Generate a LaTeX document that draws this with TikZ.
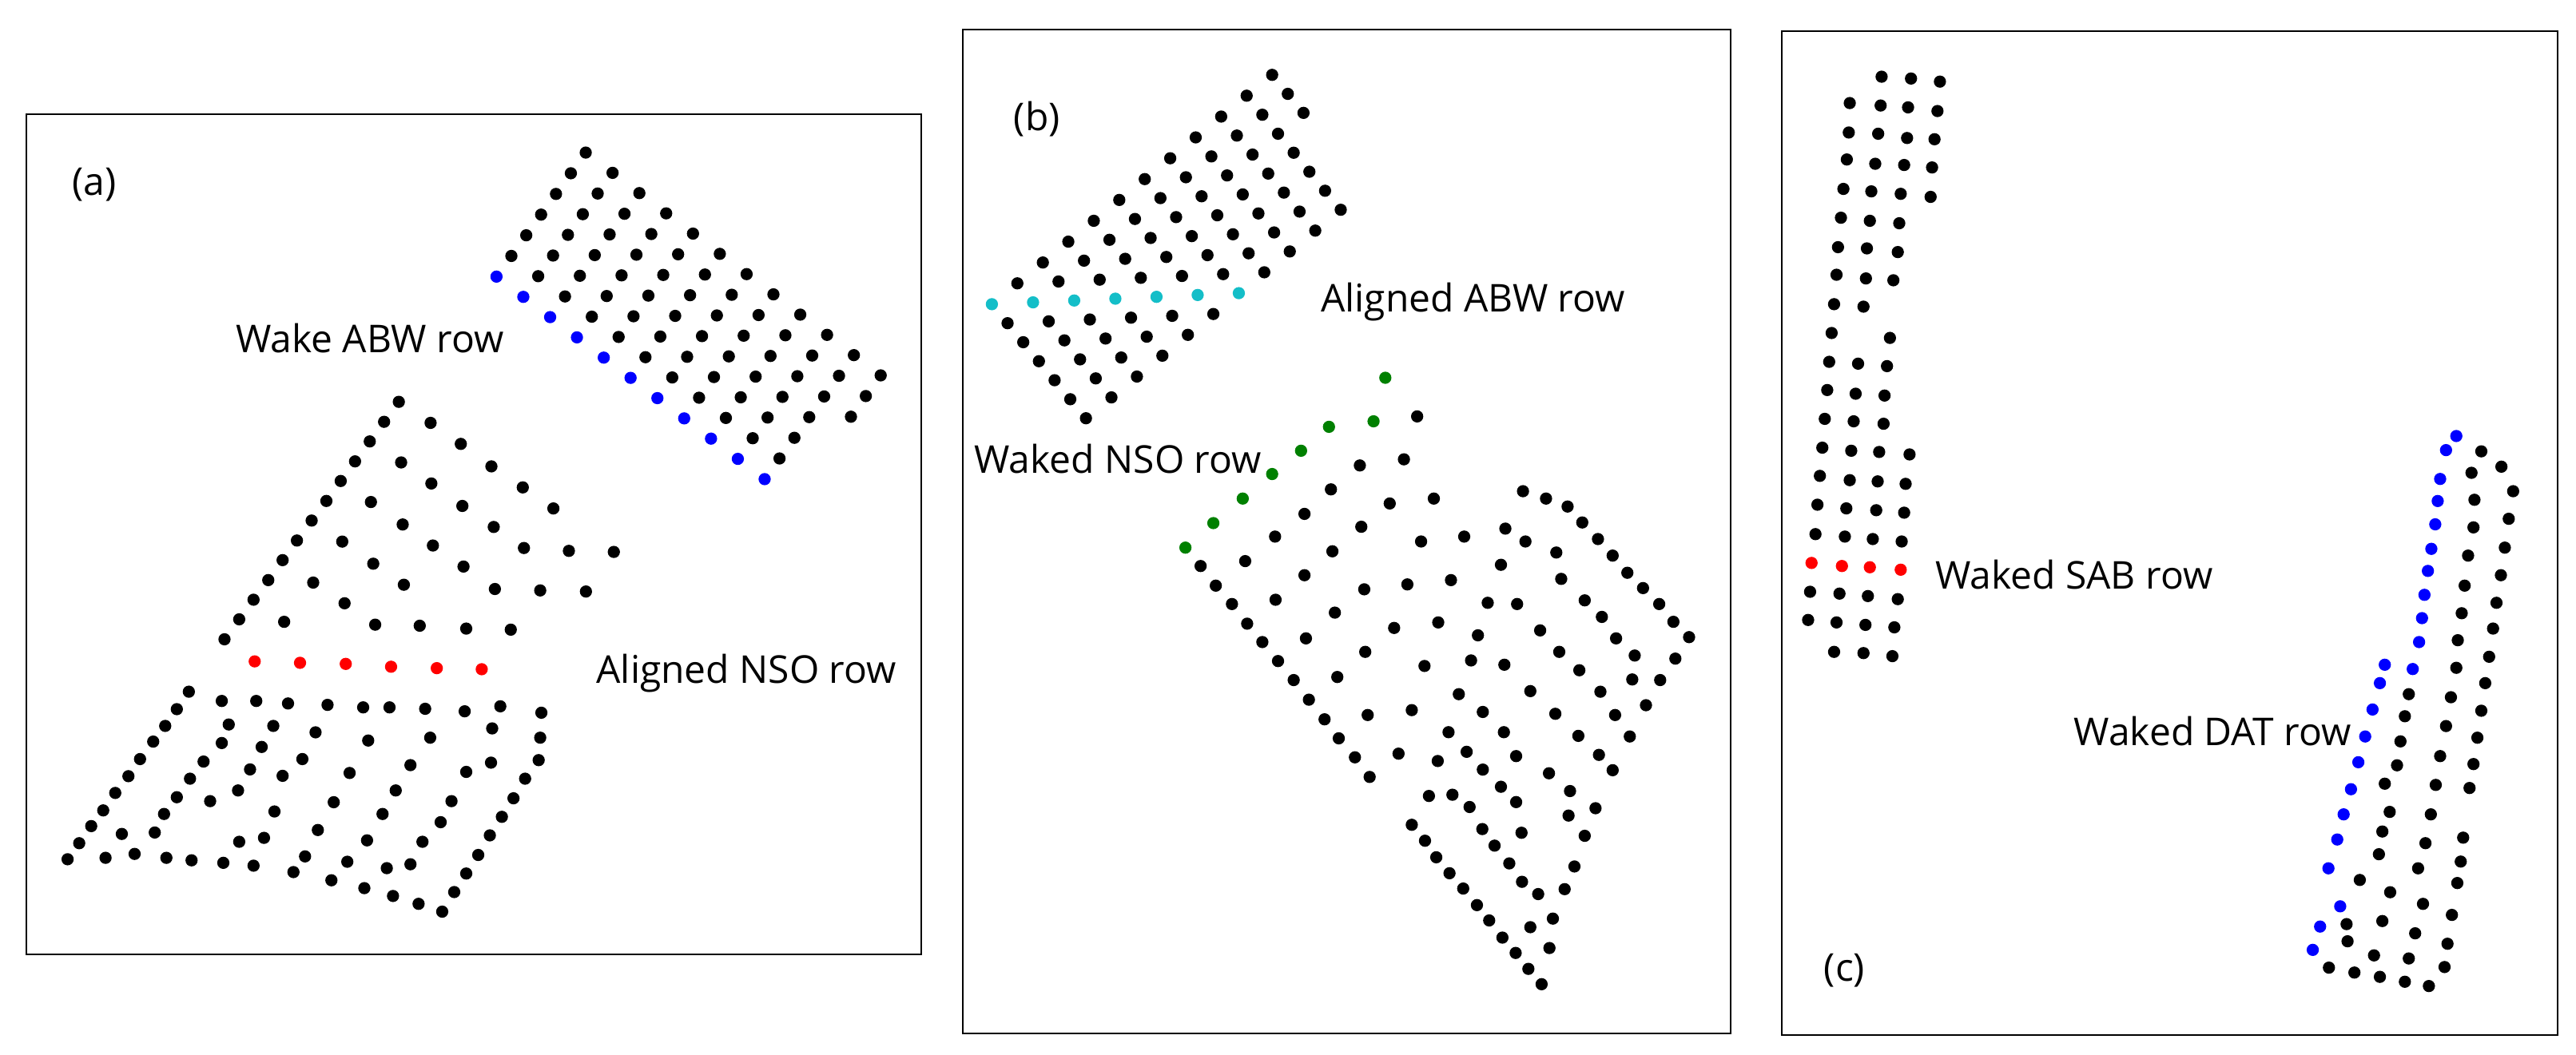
\documentclass[tikz,border=0pt]{standalone}
\usepackage{fontspec}
\setmainfont{Open Sans}
\begin{document}
\begin{tikzpicture}[x=0.5pt,y=-0.5pt,
  dot/.style={circle,fill=black,inner sep=0pt,minimum size=3.7pt},
  panel/.style={draw=black,line width=0.5pt},
  lab/.style={font=\fontsize{11.6}{13}\selectfont,inner sep=0pt}]
\definecolor{cy}{RGB}{20,190,200}
\definecolor{gr}{RGB}{0,128,0}
\useasboundingbox[fill=white] (0,0) rectangle (1560,639);
% panels
\draw[panel] (16,69) rectangle (558,578);
\draw[panel] (583,18) rectangle (1048,626);
\draw[panel] (1079,19) rectangle (1549,627);
% labels
\node[lab] (la) at (57,112) {(a)};
\node[lab] (t1) at (224,205) {Wake ABW row};
\node[lab] (t2) at (452,408) {Aligned NSO row};
\node[lab] (lb) at (628,72) {(b)};
\node[lab] (t3) at (892,183) {Aligned ABW row};
\node[lab] (t4) at (677,278) {Waked NSO row};
\node[lab] (t5) at (1256,348) {Waked SAB row};
\node[lab] (t6) at (1340,443) {Waked DAT row};
\node[lab] (lc) at (1117,588) {(c)};
% ---------- panel (a) upper lattice
\begin{scope}[shift={(290.3,82.2)},xscale=0.1674,yscale=0.1674]
\foreach \r/\ja/\jb in {-6/6/6,-5/5/6,-4/4/6,-3/3/6,-2/2/6,-1/1/6,0/0/6,1/0/6,2/0/6,3/0/6,4/0/6,5/0/6,6/0/5,7/0/4,8/0/2,9/0/1,10/0/0}
  \foreach \j in {\ja,...,\jb}{
    \pgfmathsetmacro\xx{62+97*\r+150.8*\j}
    \pgfmathsetmacro\yy{510+73.3*\r-1.5*\j}
    \ifnum\j=0 \ifnum\r>-1
      \node[dot,fill=blue] at (\xx,\yy) {};
    \else \node[dot] at (\xx,\yy) {}; \fi
    \else \node[dot] at (\xx,\yy) {}; \fi
  }
\end{scope}
% ---------- panel (a) lower
\begin{scope}[shift={(19.35,222.5)},xscale=0.2346,yscale=0.216]
\foreach \p in {(947,97),(909,153),(872,208),(834,264),(797,319),(760,375),(722,430),(684,486),(647,541),(610,597),(572,652),(535,707),(497,763),
(1029,156),(1107,215),(1186,278),(1267,337),(1346,396),
(953,267),(1031,326),(1111,389),(1192,448),(1270,507),(1386,515),(1502,518),
(875,378),(957,441),(1035,500),(1114,559),(1195,622),(1312,626),(1430,629),
(801,489),(881,551),(960,610),
(726,604),(807,662),(886,722),(1001,725),(1121,733),(1236,736),(651,714),
(405,910),(374,959),(344,1006),(313,1050),(279,1099),(249,1147),(215,1194),(184,1243),(153,1287),(122,1335),(92,1380),
(490,936),(579,936),(661,943),(763,947),(855,954),(923,954),(1015,958),(1117,965),(1209,951),(1315,969),
(508,1002),(623,1006),(732,1024),(868,1047),(1028,1039),(1188,1013),(1312,1039),
(490,1054),(593,1065),(698,1099),(820,1138),(977,1116),(1121,1135),(1185,1109),(1308,1102),
(443,1106),(563,1128),(647,1146),(939,1187),(1083,1217),(1273,1154),
(408,1154),(532,1187),(460,1217),(374,1206),(626,1246),(779,1220),(905,1253),(1055,1276),(1243,1209),
(341,1253),(317,1305),(232,1309),(738,1298),(865,1327),(1008,1331),(1213,1261),(1182,1313),
(535,1331),(599,1320),(190,1376),(265,1365),(347,1376),(412,1383),(494,1390),(572,1398),
(705,1372),(675,1416),(814,1387),(773,1439),(916,1405),(977,1394),(858,1461),(932,1483),(998,1505),(1059,1527),(1090,1472),(1121,1420),(1152,1368)}
  \node[dot] at \p {};
\foreach \p in {(575,825),(692,829),(810,832),(927,840),(1045,844),(1161,847)}
  \node[dot,fill=red] at \p {};
\end{scope}
% ---------- panel (b)
\begin{scope}[shift={(580.5,29)},xscale=0.2967,yscale=0.3715]
\foreach \m/\nb in {0/6,1/6,2/6,3/6,4/6,5/6,6/6,7/6,8/6,9/6,10/6,11/2}
  \foreach \n in {0,...,\nb}{
    \pgfmathsetmacro\xx{68+52*\m+32*\n}
    \pgfmathsetmacro\yy{418-34*\m+31*\n}
    \ifnum\m=\n \node[dot,fill=cy] at (\xx,\yy) {};
    \else \node[dot] at (\xx,\yy) {}; \fi
  }
\foreach \p in {(463,815),(520,775),(580,735),(640,695),(699,657),(756,618),(847,609),(871,538)}
  \node[dot,fill=gr] at \p {};
\foreach \p in {(494,845),(525,877),(558,907),(589,939),(620,969),(652,1000),(684,1031),(715,1063),(747,1095),(776,1126),(809,1157),(839,1189),
(936,601),(909,671),(819,681),(760,720),(706,760),(646,797),(585,837),
(970,735),(880,743),(822,781),(763,821),(706,860),(647,900),
(1116,784),(1032,797),(944,805),
(1107,843),(1005,868),(916,875),(828,883),(768,921),(709,963),(773,1026),(835,1088),(898,1151),
(1080,905),(1140,907),(979,937),(889,946),(830,985),(951,1008),(1046,999),(1114,1006),(1060,958),(1187,950),
(1021,1054),(925,1080),(1070,1083),(1167,1049),(1000,1116),(1113,1116),(1037,1148),(978,1163),(1070,1177),(1138,1155),(1107,1205),(1138,1230),(1043,1238),(1008,1218),(960,1220),(1069,1274),(1094,1301),(1124,1330),(1150,1360),(1183,1380),(1149,1280),
(925,1267),(952,1293),(975,1320),(1002,1346),(1030,1371),(1058,1398),(1083,1423),(1110,1451),(1137,1476),(1163,1502),(1190,1527),
(1152,723),(1199,735),(1243,748),(1273,774),(1305,801),(1335,828),(1365,856),(1397,881),(1430,907),(1459,936),(1491,961),(1463,996),(1432,1031),(1403,1072),(1370,1123),(1335,1178),(1300,1240),(1278,1285),(1257,1335),(1237,1372),(1213,1420),(1206,1468),(1167,1434),
(1157,805),(1220,823),(1230,866),(1278,901),(1313,928),(1342,963),(1380,991),(1375,1030),(1226,985),(1267,1015),(1310,1050),(1340,1088),(1218,1086),(1265,1122),(1307,1153),(1205,1183),(1248,1212),(1245,1252)}
  \node[dot] at \p {};
\end{scope}
% ---------- panel (c)
\begin{scope}[shift={(1083.7,29)},xscale=0.2967,yscale=0.3715]
\foreach \p in {(188,47),(248,50),(307,55),
(123,90),(186,94),(242,97),(302,103),
(121,138),(181,140),(240,147),(296,149),
(117,182),(175,189),(234,191),(291,195),
(110,230),(167,234),(227,238),(288,243),
(105,277),(164,282),(224,286),
(99,325),(158,327),(221,333),
(96,370),(156,376),(212,379),
(91,418),(151,422),
(86,465),(205,473),
(81,512),(140,515),(199,519),
(77,558),(135,564),(194,567),
(72,605),(131,609),(192,613),
(67,652),(126,657),(183,659),(245,663),
(62,698),(123,705),(180,707),(237,711),
(57,745),(116,751),(177,754),(234,758),
(53,793),(113,797),(170,801),(229,805),
(42,887),(102,890),(160,894),(221,899),
(38,933),(96,937),(155,941),(214,945),
(91,985),(151,987),(210,992),
(1412,658),(1453,683),(1477,723),(1468,768),(1460,815),(1452,860),(1443,905),(1436,947),(1428,993),(1420,1036),(1412,1081),(1404,1125),(1396,1168),(1388,1207),(1375,1288),(1370,1327),(1363,1362),(1352,1414),(1343,1461),(1337,1499),(1305,1530),(1256,1523),(1205,1515),(1153,1508),(1101,1500),
(1392,693),(1398,737),(1396,782),(1385,828),(1378,877),(1372,922),(1364,966),(1361,1011),(1350,1059),(1340,1106),(1328,1155),(1319,1202),(1309,1250),(1298,1297),(1283,1338),(1293,1396),(1277,1444),(1264,1485),
(1264,1054),(1256,1090),(1247,1131),(1240,1170),(1215,1200),(1225,1246),(1210,1278),(1203,1315),(1226,1377),(1210,1424),(1193,1480),(1137,1429),(1139,1457),(1164,1357)}
  \node[dot] at \p {};
\foreach \p in {(45,840),(107,845),(164,847),(227,851)}
  \node[dot,fill=red] at \p {};
\foreach \p in {(1361,633),(1340,656),(1328,703),(1323,739),(1318,777),(1310,817),(1303,853),(1296,892),(1291,930),(1285,969),(1272,1013),(1215,1006),(1205,1036),(1190,1079),(1175,1123),(1161,1165),(1146,1209),(1131,1250),(1118,1291),(1100,1338),(1124,1400),(1083,1433),(1068,1471)}
  \node[dot,fill=blue] at \p {};
\end{scope}
\end{tikzpicture}
\end{document}
